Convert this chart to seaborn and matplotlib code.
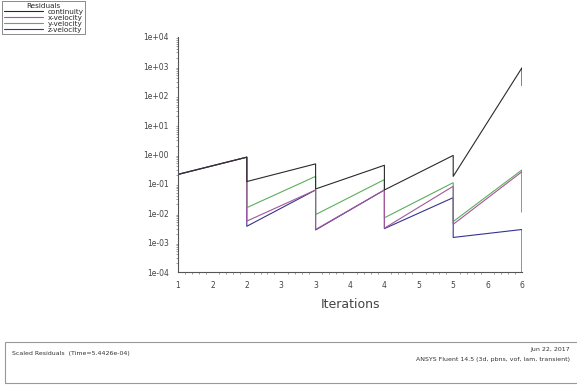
import matplotlib
matplotlib.use("Agg")
import matplotlib.pyplot as plt
from matplotlib.patches import Rectangle
import seaborn as sns
import pandas as pd

# iteration positions (each time step restarts, so x repeats at the jumps)
iters = [1, 2, 2, 3, 3, 4, 4, 5, 5, 6, 6]
continuity = [0.21, 0.81, 0.12, 0.48, 0.067, 0.43, 0.062, 0.93, 0.18, 900, 220]
x_velocity = [0.21, 0.81, 0.0054, 0.062, 0.0028, 0.062, 0.0031, 0.083, 0.0042, 0.26, 0.011]
y_velocity = [0.21, 0.81, 0.0155, 0.18, 0.009, 0.14, 0.007, 0.11, 0.0052, 0.30, 0.011]
z_velocity = [0.21, 0.81, 0.0036, 0.062, 0.0027, 0.062, 0.003, 0.034, 0.0015, 0.0028, 0.0001]

names = ["continuity", "x-velocity", "y-velocity", "z-velocity"]
colors = ["#2a2a2a", "#a4569c", "#5cae5c", "#34348e"]

xticks = [1, 1.5, 2, 2.5, 3, 3.5, 4, 4.5, 5, 5.5, 6]
xticklabels = ["1", "2", "2", "3", "3", "4", "4", "5", "5", "6", "6"]
yticks = [1e-4, 1e-3, 1e-2, 1e-1, 1e0, 1e1, 1e2, 1e3, 1e4]
yticklabels = ["1e-04", "1e-03", "1e-02", "1e-01", "1e+00", "1e+01", "1e+02", "1e+03", "1e+04"]

rows = []
for name, vals in zip(names, [continuity, x_velocity, y_velocity, z_velocity]):
    for i, (x, v) in enumerate(zip(iters, vals)):
        rows.append({"order": i, "Iterations": x, "residual": v, "series": name})
df = pd.DataFrame(rows)

sns.set_style("white")
fig = plt.figure(figsize=(5.77, 3.85), dpi=100)
ax = fig.add_axes([178 / 577, 1 - 272 / 385, (522 - 178) / 577, (272 - 37) / 385])

# draw later series first so continuity stays on top
for name, col in list(zip(names, colors))[::-1]:
    sub = df[df.series == name]
    sns.lineplot(data=sub, x="Iterations", y="residual", color=col, lw=0.8,
                 estimator=None, sort=False, ax=ax, label=name)

ax.set_yscale("log")
ax.set_ylim(1e-4, 1e4)
ax.set_xlim(1, 6)
ax.set_yticks(yticks)
ax.set_yticklabels(yticklabels)
ax.set_xticks(xticks)
ax.set_xticklabels(xticklabels)
ax.set_xticks([1 + 0.1 * k for k in range(51)], minor=True)
ax.tick_params(axis="both", which="major", labelsize=5.5, length=3, width=0.6,
               colors="#444444", direction="out")
ax.tick_params(axis="both", which="minor", length=1.5, width=0.5, colors="#777777")
ax.tick_params(axis="y", which="minor", left=True)
ax.tick_params(axis="x", which="minor", bottom=True)
for s in ["top", "right"]:
    ax.spines[s].set_visible(False)
for s in ["left", "bottom"]:
    ax.spines[s].set_color("#555555")
    ax.spines[s].set_linewidth(0.8)
ax.set_xlabel("Iterations", fontsize=9, color="#444444", labelpad=6)
ax.set_ylabel("")
ax.get_legend().remove()

handles, labels = ax.get_legend_handles_labels()
order = [labels.index(n) for n in names]
leg = fig.legend([handles[i] for i in order], names, loc="upper left",
                 bbox_to_anchor=(0.004, 0.997), fontsize=5.2, title="Residuals",
                 title_fontsize=5.2, frameon=True, fancybox=False, borderpad=0.2,
                 labelspacing=0.0, handlelength=5.5, handletextpad=0.6,
                 borderaxespad=0)
leg.get_frame().set_edgecolor("#555555")
leg.get_frame().set_linewidth(0.6)

# footer box
fig.add_artist(Rectangle((5 / 577, 2 / 385), 1.0, 41 / 385, transform=fig.transFigure,
                         fill=False, edgecolor="#999999", lw=0.8))
fig.text(12 / 577, 1 - 353 / 385, "Scaled Residuals  (Time=5.4426e-04)",
         fontsize=4.5, color="#333333", va="center")
fig.text(570 / 577, 1 - 349 / 385, "Jun 22, 2017", fontsize=4.5,
         color="#333333", ha="right", va="center")
fig.text(570 / 577, 1 - 360 / 385, "ANSYS Fluent 14.5 (3d, pbns, vof, lam, transient)",
         fontsize=4.5, color="#333333", ha="right", va="center")

fig.savefig("out.png", dpi=100)
